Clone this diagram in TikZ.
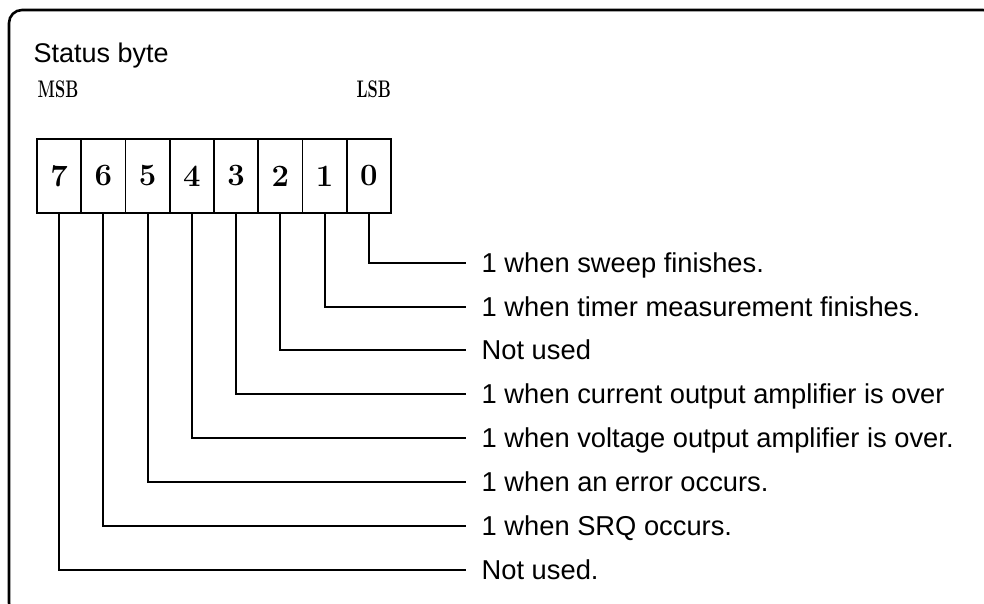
\documentclass[tikz,border=0pt]{standalone}
\usepackage{fontspec}
\newfontfamily\arialf{Liberation Sans}
\begin{document}
\begin{tikzpicture}[x=1pt,y=-1pt,
  cellbox/.style={draw,line width=1.8pt,minimum width=44.25pt,minimum height=74pt,inner sep=0pt,font=\bfseries\fontsize{31}{31}\selectfont},
  desc/.style={anchor=west,inner xsep=15.5pt,inner ysep=0pt,text height=19.5pt,text depth=0pt,font=\arialf\fontsize{27.3}{27.3}\selectfont},
  lead/.style={line width=1.8pt},
  hdr/.style={inner sep=0pt,font=\bfseries\fontsize{24}{24}\selectfont}]
\useasboundingbox (0,0) rectangle (984,603);
\clip (0,0) rectangle (984,603);
\fill[white] (0,0) rectangle (984,603);
\draw[line width=2.6pt,rounded corners=13pt] (9,10) rectangle (996,616);
\node[anchor=base west,inner sep=0pt,font=\arialf\fontsize{27}{27}\selectfont] (title) at (33.5,62) {Status byte};
\node[hdr,anchor=base west] (msb) at (37.5,97) {\scalebox{0.68}[1]{\bfseries MSB}};
\node[hdr,anchor=base east] (lsb) at (391,97) {\scalebox{0.68}[1]{\bfseries LSB}};
\foreach \b [count=\i from 0] in {7,6,5,4,3,2,1,0} {
  \node[cellbox] (b\b) at ({37+44.25*(\i+0.5)},176) {\b};
}
\node[desc] (d0) at (466,263) {1 when sweep finishes.};
\node[desc] (d1) at (466,307) {1 when timer measurement finishes.};
\node[desc] (d2) at (466,350) {Not used};
\node[desc] (d3) at (466,394) {1 when current output amplifier is over};
\node[desc] (d4) at (466,438) {1 when voltage output amplifier is over.};
\node[desc] (d5) at (466,482) {1 when an error occurs.};
\node[desc] (d6) at (466,526) {1 when SRQ occurs.};
\node[desc] (d7) at (466,570) {Not used.};
\foreach \b in {0,...,7} {
  \draw[lead] (b\b.south) |- (d\b.west);
}
\end{tikzpicture}
\end{document}
